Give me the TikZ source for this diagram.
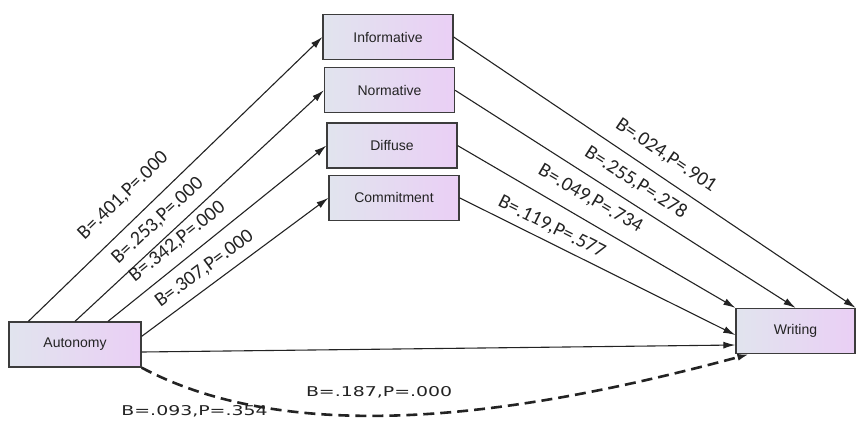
\documentclass[tikz,border=0pt]{standalone}
\usepackage{fontspec}
\setmainfont{Liberation Sans}
\newfontfamily\coeffont{Carlito}
\newfontfamily\widefont{DejaVu Sans}
\usetikzlibrary{arrows.meta,positioning}
\definecolor{ink}{RGB}{35,35,35}
\definecolor{edge}{RGB}{60,60,60}
\definecolor{boxleft}{RGB}{225,228,238}
\definecolor{boxright}{RGB}{234,207,245}
\tikzset{
  every picture/.style={x=1pt, y=-1pt, line width=1.1pt, color=ink},
  node distance=7pt,
  var/.style={draw=edge, line width=1.3pt, left color=boxleft, right color=boxright,
    minimum width=130pt, minimum height=45pt, inner sep=0pt, text=ink,
    font=\fontsize{14}{16}\selectfont},
  link/.style={-{Latex[length=12pt,width=7pt]}, line width=1.1pt},
  hyp/.style={link, dash pattern=on 11pt off 6pt, line width=2.6pt},
  coef/.style={font=\coeffont\fontsize{20}{22}\selectfont, sloped, inner sep=0pt},
  wide/.style={font=\widefont\fontsize{13.5}{15}\selectfont, inner sep=0pt},
}

\begin{document}
\begin{tikzpicture}
  \useasboundingbox (0,0) rectangle (856,421);
  % mediators
  \node[var] (inf) at (388,37) {Informative};
  \node[var, below=of inf, xshift=1.5pt] (nor) {Normative};
  \node[var, below=9pt of nor, xshift=2.5pt] (dif) {Diffuse};
  \node[var, below=6pt of dif, xshift=2pt] (com) {Commitment};
  % predictor and outcome
  \node[var, minimum width=132pt] (aut) at (75,344.5) {Autonomy};
  \node[var, minimum width=119pt] (wri) at (795.5,331) {Writing};

  \draw[link] ([xshift=20pt]aut.north west) -- node[coef, pos=0.38, above=16pt] {B=.401,P=.000} (inf.west);
  \draw[link] (aut.north) -- node[coef, pos=0.38, above=9pt] {B=.253,P=.000} (nor.west);
  \draw[link] ([xshift=33pt]aut.north) -- node[coef, pos=0.37, above=10pt] {B=.342,P=.000} (dif.west);
  \draw[link] ([yshift=-15pt]aut.north east) -- node[coef, pos=0.39, above=8.5pt] {B=.307,P=.000} (com.west);

  \draw[link] (inf.east) -- node[coef, pos=0.5, above=12pt] {B=.024,P=.901} (wri.north east);
  \draw[link] (nor.east) -- node[coef, pos=0.5, above=11pt] {B=.255,P=.278} (wri.north);
  \draw[link] (dif.east) -- node[coef, pos=0.44, above=12.5pt] {B=.049,P=.734} (wri.north west);
  \draw[link] (com.east) -- node[coef, pos=0.31, above=6.5pt] {B=.119,P=.577} ([yshift=-4pt]wri.west);

  \draw[link] ([yshift=-7.5pt]aut.east) -- node[wide, pos=0.4, yshift=-43pt] {\scalebox{1.4}[1]{B=.187,P=.000}} ([yshift=-14pt]wri.west);
  \draw[hyp] (aut.south east) to[out=-28, in=195, looseness=0.8]
    node[wide, pos=0.1, yshift=-21pt] {\scalebox{1.4}[1]{B=.093,P=.354}} ([xshift=14pt]wri.south west);
\end{tikzpicture}
\end{document}
